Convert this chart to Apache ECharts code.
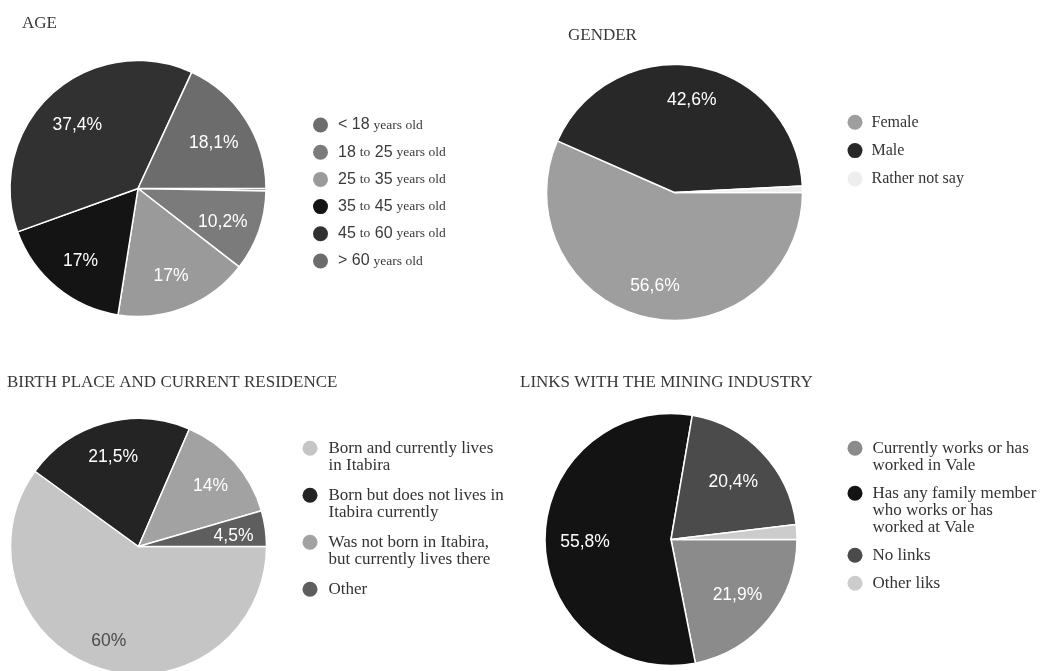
<!DOCTYPE html>
<html>
<head>
<meta charset="utf-8">
<script src="https://cdn.jsdelivr.net/npm/echarts@6/dist/echarts.min.js"></script>
<style>
  html, body { margin: 0; padding: 0; background: #ffffff; }
  #chart { width: 1044px; height: 671px; }
</style>
</head>
<body>
<div id="chart"></div>
<script>
// ---- Survey data (percent of respondents) ----
const ageCategories = ['< 18 years old', '18 to 25 years old', '25 to 35 years old',
                       '35 to 45 years old', '45 to 60 years old', '> 60 years old'];
const ageValues = [0.3, 10.2, 17, 17, 37.4, 18.1];

const genderCategories = ['Female', 'Male', 'Rather not say'];
const genderValues = [56.6, 42.6, 0.8];

const birthCategories = ['Born and currently lives\nin Itabira',
                         'Born but does not lives in\nItabira currently',
                         'Was not born in Itabira,\nbut currently lives there',
                         'Other'];
const birthValues = [60, 21.5, 14, 4.5];

const linkCategories = ['Currently works or has\nworked in Vale',
                        'Has any family member\nwho works or has\nworked at Vale',
                        'No links',
                        'Other liks'];
const linkValues = [21.9, 55.8, 20.4, 1.9];

// ---- Slice colours (greyscale palette) ----
const ageColors    = ['#6e6e6e', '#7b7b7b', '#9a9a9a', '#141414', '#313131', '#6c6c6c'];
const genderColors = ['#9e9e9e', '#282828', '#eeeeee'];
const birthColors  = ['#c5c5c5', '#242424', '#a2a2a2', '#5e5e5e'];
const linkColors   = ['#8b8b8b', '#131313', '#4b4b4b', '#cccccc'];

// ---- Layout of the four panels ----
// labelDist: distance of the percentage text from the pie centre (px), labelDy: small vertical nudge
// legend: x of marker box, y of first marker centre, line height, gap after each entry
const panels = [
  { title: 'AGE', titleLeft: 22, titleTop: 15,
    center: [138, 188.5], r: 128, labelDist: 90, labelDy: 3.5,
    legend: { left: 313, firstY: 125, lineH: 17, gap: 10.2, pad: 5, fontSize: 16 },
    cats: ageCategories, vals: ageValues, colors: ageColors, mixedLegend: true },
  { title: 'GENDER', titleLeft: 568, titleTop: 27.5,
    center: [674.5, 192.5], r: 128, labelDist: 95, labelDy: 1,
    legend: { left: 847.5, firstY: 122.3, lineH: 17, gap: 11.3, pad: 4, fontSize: 16 },
    cats: genderCategories, vals: genderValues, colors: genderColors },
  { title: 'BIRTH PLACE AND CURRENT RESIDENCE', titleLeft: 7, titleTop: 374,
    center: [138.5, 546.5], r: 128, labelDist: 96, labelDy: 3,
    legend: { left: 302.5, firstY: 448.3, lineH: 17, gap: 13, pad: 6, fontSize: 17 },
    cats: birthCategories, vals: birthValues, colors: birthColors },
  { title: 'LINKS WITH THE MINING INDUSTRY', titleLeft: 520, titleTop: 374,
    center: [671, 539.5], r: 126, labelDist: 86, labelDy: 1.5,
    legend: { left: 847.5, firstY: 448.3, lineH: 17, gap: 11, pad: 5, fontSize: 17 },
    cats: linkCategories, vals: linkValues, colors: linkColors }
];

// Light slices carry dark percentage text, the rest white.
function labelColorFor(hex) {
  const v = parseInt(hex.slice(1, 3), 16);
  return v > 0xb0 ? '#4a4a4a' : '#ffffff';
}

function percentText(p) {
  return p.value >= 3 ? String(p.value).replace('.', ',') + '%' : '';
}

// Age legend: numbers in a sans face, words in a smaller serif face.
function ageLegendText(name) {
  return name
    .replace(/[<>]?\s?\d+/g, m => '{n|' + m + '}')
    .replace(/\b(to|years old)\b/g, m => '{w|' + m + '}');
}

const titles = [], legends = [], series = [];

panels.forEach(pn => {
  titles.push({
    text: pn.title, left: pn.titleLeft, top: pn.titleTop, padding: 0,
    textStyle: { fontFamily: 'Liberation Serif', fontSize: 17, fontWeight: 'normal', color: '#383838' }
  });

  const data = pn.cats.map((name, i) => ({
    name, value: pn.vals[i],
    itemStyle: { color: pn.colors[i] },
    label: { color: labelColorFor(pn.colors[i]) }
  }));

  // One legend entry per component so wrapped entries keep their first line
  // level with the marker and the following entry starts below the last line.
  const lg = pn.legend;
  let markerY = lg.firstY;
  pn.cats.forEach(name => {
    const lines = name.split('\n').length;
    const halfBox = (2 * lines - 1) * lg.lineH / 2;
    legends.push({
      orient: 'vertical', left: lg.left, top: markerY - halfBox, padding: 0,
      itemWidth: 15, itemHeight: 15, icon: 'circle',
      selectedMode: false,
      itemStyle: { borderWidth: 0 },
      textStyle: {
        fontFamily: 'Liberation Serif', fontSize: lg.fontSize, color: '#333333', lineHeight: lg.lineH,
        rich: {
          n: { fontFamily: 'Liberation Sans', fontSize: 16, color: '#3a3a3a' },
          w: { fontFamily: 'Liberation Serif', fontSize: 13.5, color: '#3a3a3a' }
        }
      },
      formatter: pn.mixedLegend ? ageLegendText : (n => n),
      data: [{ name, textStyle: { padding: [(lines - 1) * lg.lineH, 0, 0, lg.pad] } }]
    });
    markerY += lines * lg.lineH + lg.gap;
  });

  // slices
  series.push({
    type: 'pie', center: pn.center, radius: [0, pn.r],
    startAngle: 0, clockwise: true,
    label: { show: false }, labelLine: { show: false },
    itemStyle: { borderColor: '#ffffff', borderWidth: 1.5 },
    emphasis: { disabled: true },
    data
  });

  // percentage labels: a transparent ring whose mid-radius puts the text at labelDist
  // (inside labels are pushed 3px further out by the library)
  const mid = pn.labelDist - 3;
  series.push({
    type: 'pie', center: pn.center, radius: [2 * mid - pn.r, pn.r],
    startAngle: 0, clockwise: true, silent: true, legendHoverLink: false,
    itemStyle: { color: 'rgba(0,0,0,0)', borderWidth: 0 },
    label: {
      show: true, position: 'inside', formatter: percentText,
      fontFamily: 'Liberation Sans', fontSize: 17.5, offset: [0, pn.labelDy]
    },
    labelLine: { show: false },
    emphasis: { disabled: true },
    data: data.map(d => ({ name: d.name, value: d.value,
                           itemStyle: { color: 'rgba(0,0,0,0)' },
                           label: d.label }))
  });
});

const chart = echarts.init(document.getElementById('chart'), null, { renderer: 'canvas' });
chart.setOption({
  animation: false,
  backgroundColor: '#ffffff',
  title: titles,
  legend: legends,
  series
});
</script>
</body>
</html>
